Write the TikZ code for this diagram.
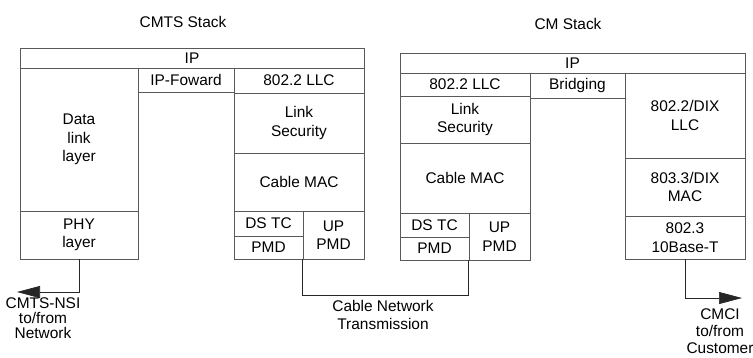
\documentclass[tikz,border=0pt]{standalone}
\usepackage{fontspec}
\setmainfont{Liberation Sans}
\usetikzlibrary{arrows.meta}

% one layer of a protocol stack: name, left, top, right, bottom, text
\newcommand\stackbox[6]{%
  \node[layer, minimum width={(#4-#2)*1bp}, minimum height={(#5-#3)*1bp}]
    (#1) at ({(#2+#4)/2},{(#3+#5)/2}) {#6};}

\begin{document}
\begin{tikzpicture}[x=1bp, y=-1bp,
  layer/.style={draw=black!65, line width=0.7bp, inner sep=0pt, align=center,
    font=\fontsize{15.5}{18.5}\selectfont},
  wire/.style={draw=black!85, line width=0.7bp},
  tip/.style={-{Triangle[length=23bp, width=12bp]}},
  title/.style={font=\fontsize{15.5}{18.5}\selectfont},
  note/.style={align=center, inner sep=1bp, font=\fontsize{15.5}{#1}\selectfont}]

\useasboundingbox (0,0) rectangle (753,357);

% titles
\node[title] (cmtstitle) at (183,22) {CMTS Stack};
\node[title] (cmtitle) at (568,24) {CM Stack};

% CMTS stack
\stackbox{cmtsip}{20}{48}{364}{68}{IP}
\stackbox{dll}{20}{68}{138}{211}{Data\\link\\layer}
\stackbox{phy}{20}{211}{138}{259}{PHY\\layer}
\stackbox{ipfwd}{138}{68}{234}{92}{IP-Foward}
\stackbox{cmtsllc}{234}{68}{364}{93}{802.2 LLC}
\stackbox{cmtssec}{234}{93}{364}{153}{Link\\Security}
\stackbox{cmtsmac}{234}{153}{364}{211}{Cable MAC}
\stackbox{cmtsdstc}{234}{211}{303}{236}{DS TC}
\stackbox{cmtspmd}{234}{236}{303}{259}{PMD}
\stackbox{cmtsup}{303}{211}{364}{259}{UP\\PMD}

% CM stack
\stackbox{cmip}{400}{53}{745}{73}{IP}
\stackbox{cmllc}{400}{73}{530}{96}{802.2 LLC}
\stackbox{cmsec}{400}{96}{530}{143}{Link\\Security}
\stackbox{cmmac}{400}{143}{530}{213}{Cable MAC}
\stackbox{cmdstc}{400}{213}{469}{237}{DS TC}
\stackbox{cmpmd}{400}{237}{469}{260}{PMD}
\stackbox{cmup}{469}{213}{530}{260}{UP\\PMD}
\stackbox{bridge}{530}{73}{625}{98}{Bridging}
\stackbox{dixllc}{625}{73}{745}{158}{802.2/DIX\\LLC}
\stackbox{dixmac}{625}{158}{745}{216}{803.3/DIX\\MAC}
\stackbox{tbase}{625}{216}{745}{259}{802.3\\10Base-T}

% interfaces
\coordinate (nsi) at (17,292);
\coordinate (cmci) at (742,298);
\draw[wire, tip] (phy.south) |- (nsi);
\draw[wire] (cmtsup.south west) -- ++(0,36) -| (cmup.south west);
\draw[wire, tip] (tbase.south) |- (cmci);

\node[note=15.3] (nsilabel) at (43,318) {CMTS-NSI\\to/from\\Network};
\node[note=19] (cablelabel) at (383,315) {Cable Network\\Transmission};
\node[note=16.8] (cmcilabel) at (720,331) {CMCI\\to/from\\Customer};

\end{tikzpicture}
\end{document}
